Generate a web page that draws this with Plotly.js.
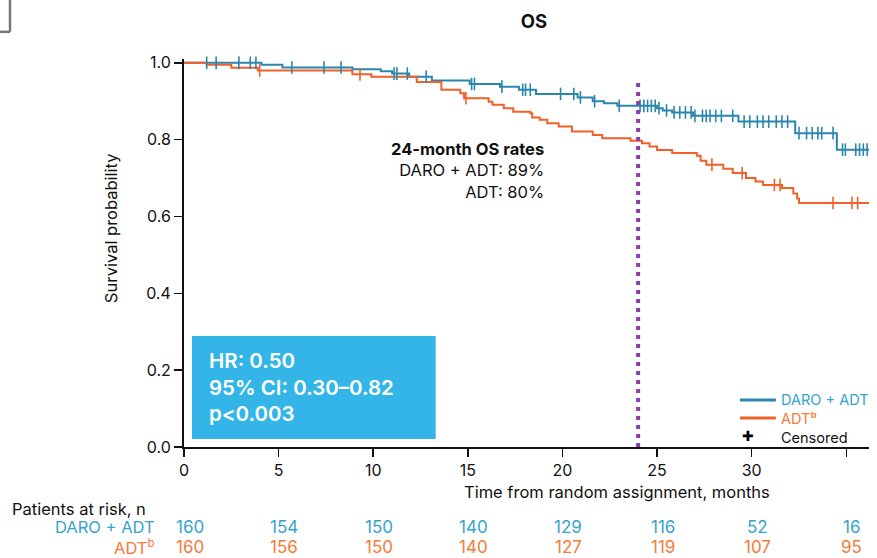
<!DOCTYPE html>
<html>
<head>
<meta charset="utf-8">
<script src="https://cdn.plot.ly/plotly-3.0.1.min.js"></script>
<style>html,body{margin:0;padding:0;background:#fff;}#chart{width:877px;height:558px;}</style>
</head>
<body>
<div id="chart"></div>
<script>
// Kaplan-Meier step data (months, survival probability)
const daroTime = [0, 4.1, 5.2, 8.9, 10.4, 11.0, 11.9, 13.1, 15.1, 16.7, 17.7, 18.6, 20.8, 21.6, 22.2, 22.9, 25.0, 25.3, 25.8, 26.9, 29.3, 32.3, 34.5, 36.2];
const daroSurv = [1.0, 0.995, 0.988, 0.983, 0.978, 0.972, 0.964, 0.954, 0.945, 0.938, 0.930, 0.919, 0.910, 0.900, 0.895, 0.888, 0.882, 0.876, 0.871, 0.862, 0.847, 0.817, 0.774, 0.774];
const adtTime = [0, 1.2, 2.5, 3.9, 8.9, 9.9, 12.3, 13.6, 14.6, 14.8, 16.1, 16.3, 16.9, 17.4, 18.3, 18.4, 18.8, 19.2, 19.8, 20.5, 21.6, 22.1, 23.6, 24.2, 24.6, 25.0, 25.8, 27.1, 27.3, 27.6, 28.5, 29.0, 29.7, 30.2, 30.6, 31.6, 32.2, 32.4, 32.5, 36.2];
const adtSurv = [1.0, 0.995, 0.987, 0.980, 0.970, 0.964, 0.950, 0.930, 0.921, 0.908, 0.899, 0.891, 0.882, 0.873, 0.869, 0.858, 0.852, 0.843, 0.834, 0.821, 0.812, 0.804, 0.797, 0.791, 0.782, 0.773, 0.765, 0.758, 0.745, 0.735, 0.724, 0.713, 0.700, 0.691, 0.682, 0.674, 0.660, 0.647, 0.635, 0.635];
// Censoring times
const daroCensor = [1.2, 1.7, 2.9, 3.5, 3.8, 5.7, 7.4, 8.3, 11.1, 11.25, 11.8, 12.8, 15.2, 15.35, 16.8, 17.9, 18.05, 18.3, 19.9, 20.6, 20.95, 21.7, 23.0, 24.1, 24.3, 24.5, 24.7, 24.9, 25.1, 25.5, 25.9, 26.2, 26.5, 26.8, 27.0, 27.4, 27.6, 27.8, 28.1, 28.4, 29.0, 29.6, 29.9, 30.3, 30.6, 30.9, 31.3, 31.6, 31.9, 32.5, 32.9, 33.2, 33.5, 33.7, 34.3, 34.8, 34.95, 35.5, 35.7, 35.9, 36.1];
const adtCensor = [4.0, 9.3, 14.9, 27.9, 29.5, 31.2, 31.5, 34.3, 35.3, 35.6];
// Numbers at risk
const riskTimes = [0, 5, 10, 15, 20, 25, 30, 35];
const daroRisk = [160, 154, 150, 140, 129, 116, 52, 16];
const adtRisk = [160, 156, 150, 140, 127, 119, 107, 95];
const xTickVals = [0, 5, 10, 15, 20, 25, 30, 35];
const xTickText = ['0', '5', '10', '15', '20', '25', '30', ''];
const yTickVals = [0, 0.2, 0.4, 0.6, 0.8, 1.0];
const yTickText = ['0.0', '0.2', '0.4', '0.6', '0.8', '1.0'];
const rateLines = ['<b>24-month OS rates</b>', 'DARO + ADT: 89%', 'ADT: 80%'];
const hrLines = ['HR: 0.50', '95% CI: 0.30\u20130.82', 'p<0.003'];

const BLUE = '#2a86ad';
const ORANGE = '#f2602a';
const BLUE_TXT = '#35a3cf';
const ORANGE_TXT = '#f57a3a';
const FONT = 'Inter, "Noto Sans", Arial, sans-serif';

function survAt(times, surv, t) {
  let v = surv[0];
  for (let i = 0; i < times.length; i++) { if (times[i] <= t) v = surv[i]; }
  return v;
}

const traces = [
  {x: daroTime, y: daroSurv, mode: 'lines', line: {shape: 'hv', color: BLUE, width: 2}, cliponaxis: false, hoverinfo: 'skip', showlegend: false},
  {x: adtTime, y: adtSurv, mode: 'lines', line: {shape: 'hv', color: ORANGE, width: 2}, cliponaxis: false, hoverinfo: 'skip', showlegend: false},
  {x: daroCensor, y: daroCensor.map(t => survAt(daroTime, daroSurv, t)), mode: 'markers',
   marker: {symbol: 'line-ns', size: 9, line: {color: BLUE, width: 1.6}}, showlegend: false, cliponaxis: false, hoverinfo: 'skip'},
  {x: adtCensor, y: adtCensor.map(t => survAt(adtTime, adtSurv, t)), mode: 'markers',
   marker: {symbol: 'line-ns', size: 9, line: {color: ORANGE, width: 1.6}}, showlegend: false, cliponaxis: false, hoverinfo: 'skip'}
];

const annotations = [
  {text: rateLines.join('<br>'), x: 19.12, y: 0.721, xref: 'x', yref: 'y', xanchor: 'right', yanchor: 'middle', align: 'right', showarrow: false, font: {family: FONT, size: 16.5, color: '#111'}},
  {text: hrLines.join('<br>'), x: 1.2, y: 0.156, xref: 'x', yref: 'y', xanchor: 'left', yanchor: 'middle', align: 'left', showarrow: false, font: {family: FONT, size: 20.5, color: '#fff', weight: 600}},
  {text: 'Survival probability', textangle: -90, xref: 'paper', yref: 'paper', x: -0.1066, y: 0.564, xanchor: 'center', yanchor: 'middle', showarrow: false, font: {family: FONT, size: 16.5, color: '#111'}},
  {text: 'Time from random assignment, months', xref: 'paper', yref: 'paper', x: 0.632, y: -0.116, xanchor: 'center', yanchor: 'middle', showarrow: false, font: {family: FONT, size: 16.5, color: '#111'}},
  {text: 'Patients at risk, n', xref: 'paper', yref: 'paper', x: -0.254, y: -0.16, xanchor: 'left', yanchor: 'middle', showarrow: false, font: {family: FONT, size: 16.5, color: '#111'}},
  {text: 'DARO + ADT', xref: 'paper', yref: 'paper', x: -0.0394, y: -0.206, xanchor: 'right', yanchor: 'middle', showarrow: false, font: {family: FONT, size: 16.5, color: BLUE_TXT}},
  {text: 'ADT<sup>b</sup>', xref: 'paper', yref: 'paper', x: -0.0394, y: -0.258, xanchor: 'right', yanchor: 'middle', showarrow: false, font: {family: FONT, size: 16.5, color: ORANGE_TXT}},
  // manual legend (one text block)
  {text: '<span style="color:' + BLUE_TXT + '">DARO + ADT</span><br><span style="color:' + ORANGE_TXT + '">ADT\u1D47</span><br>Censored',
   xref: 'paper', yref: 'paper', x: 0.8686, y: 0.0747, xanchor: 'left', yanchor: 'middle', align: 'left', showarrow: false, font: {family: FONT, size: 14.5, color: '#111'}},
  {text: '\u271A', xref: 'paper', yref: 'paper', x: 0.823, y: 0.0284, xanchor: 'center', yanchor: 'middle', showarrow: false, font: {family: '"DejaVu Sans", sans-serif', size: 14, color: '#000'}}
];
riskTimes.forEach((t, i) => {
  annotations.push({text: String(daroRisk[i]), x: t + 0.3, y: -0.206, xref: 'x', yref: 'paper', xanchor: 'center', yanchor: 'middle', showarrow: false, font: {family: FONT, size: 17, color: BLUE_TXT}});
  annotations.push({text: String(adtRisk[i]), x: t + 0.3, y: -0.258, xref: 'x', yref: 'paper', xanchor: 'center', yanchor: 'middle', showarrow: false, font: {family: FONT, size: 17, color: ORANGE_TXT}});
});

const shapes = [
  {type: 'rect', xref: 'x', yref: 'y', x0: 0.42, x1: 13.3, y0: 0.021, y1: 0.289, fillcolor: '#33b5e8', line: {width: 0}, layer: 'below'},
  {type: 'line', xref: 'x', yref: 'y', x0: 24, x1: 24, y0: 0, y1: 0.956, line: {color: '#8b3ea8', width: 4, dash: '4px,5px'}},
  {type: 'line', xref: 'paper', yref: 'paper', x0: 0.8117, x1: 0.864, y0: 0.1211, y1: 0.1211, line: {color: BLUE, width: 3}},
  {type: 'line', xref: 'paper', yref: 'paper', x0: 0.8117, x1: 0.864, y0: 0.0747, y1: 0.0747, line: {color: ORANGE, width: 3}},
  {type: 'line', xref: 'paper', yref: 'paper', x0: -0.254, x1: -0.254, y0: 1.155, y1: 1.07, line: {color: '#777', width: 2.5}},
  {type: 'line', xref: 'paper', yref: 'paper', x0: -0.27, x1: -0.254, y0: 1.07, y1: 1.07, line: {color: '#777', width: 2.5}}
];

const layout = {
  width: 877, height: 558,
  margin: {l: 184, r: 8, t: 59, b: 111},
  paper_bgcolor: '#fff', plot_bgcolor: '#fff',
  font: {family: FONT, size: 16, color: '#111'},
  title: {text: '<b>OS</b>', x: 0.511, xref: 'paper', y: 1 - 22 / 558, yanchor: 'middle', xanchor: 'center', font: {family: FONT, size: 18.5, color: '#111'}},
  xaxis: {range: [0, 36.2], tickvals: xTickVals, ticktext: xTickText, showgrid: false, zeroline: false,
          showline: true, linecolor: '#111', linewidth: 2, ticks: 'outside', ticklen: 8, tickwidth: 1.5, tickcolor: '#111',
          tickfont: {family: FONT, size: 16, color: '#111'}},
  yaxis: {range: [0, 1.01], tickvals: yTickVals, ticktext: yTickText, showgrid: false, zeroline: false,
          showline: true, linecolor: '#111', linewidth: 2, ticks: 'outside', ticklen: 8, tickwidth: 1.5, tickcolor: '#111',
          tickfont: {family: FONT, size: 16, color: '#111'}},
  showlegend: false,
  annotations: annotations,
  shapes: shapes
};

Plotly.newPlot('chart', traces, layout, {displayModeBar: false, staticPlot: true});
</script>
</body>
</html>
